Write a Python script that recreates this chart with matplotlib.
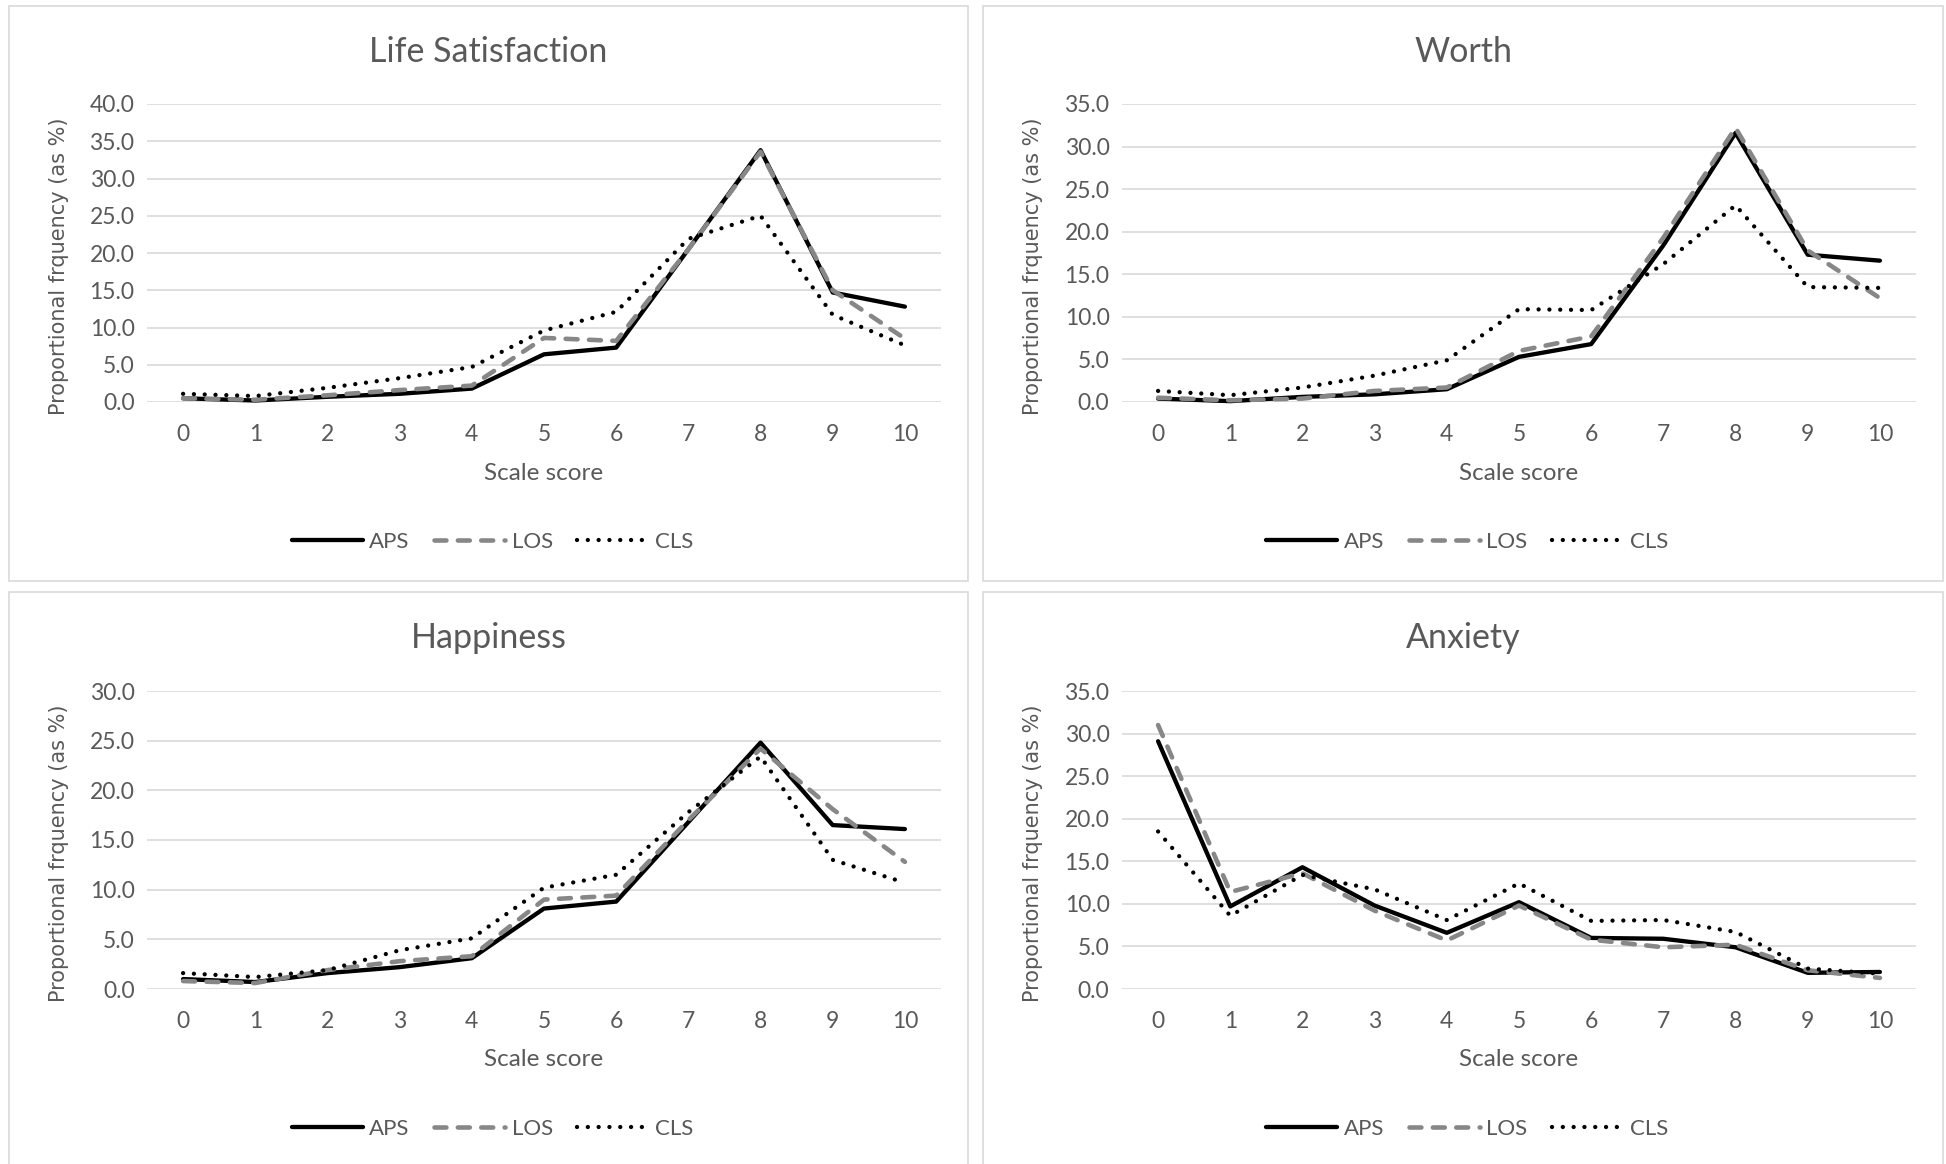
import matplotlib
matplotlib.use("Agg")
import matplotlib.pyplot as plt
from matplotlib.patches import Rectangle

# ---- data ----
scores = list(range(11))
series_names = ["APS", "LOS", "CLS"]

life_aps = [0.5, 0.2, 0.7, 1.1, 1.8, 6.4, 7.3, 20.5, 33.8, 14.7, 12.8]
life_los = [0.5, 0.3, 0.9, 1.6, 2.2, 8.6, 8.2, 20.5, 33.6, 15.0, 8.5]
life_cls = [1.1, 0.8, 1.9, 3.2, 4.7, 9.6, 12.1, 21.9, 25.0, 11.7, 7.6]

worth_aps = [0.4, 0.1, 0.6, 0.9, 1.5, 5.3, 6.8, 18.4, 31.6, 17.3, 16.6]
worth_los = [0.5, 0.2, 0.4, 1.3, 1.7, 6.0, 7.7, 19.3, 32.2, 17.8, 12.2]
worth_cls = [1.3, 0.8, 1.7, 3.1, 4.9, 10.9, 10.8, 16.2, 23.1, 13.5, 13.4]

happy_aps = [1.0, 0.7, 1.6, 2.2, 3.1, 8.1, 8.8, 16.8, 24.8, 16.5, 16.1]
happy_los = [0.8, 0.6, 1.9, 2.8, 3.3, 9.0, 9.4, 17.0, 24.2, 18.1, 12.8]
happy_cls = [1.6, 1.2, 1.9, 3.9, 5.1, 10.2, 11.5, 17.8, 23.4, 13.0, 10.7]

anx_aps = [29.1, 9.7, 14.3, 9.8, 6.6, 10.2, 6.0, 5.9, 4.9, 1.9, 2.0]
anx_los = [31.0, 11.4, 13.6, 9.2, 5.7, 9.8, 5.8, 4.9, 5.2, 2.2, 1.3]
anx_cls = [18.5, 8.6, 13.4, 11.7, 8.1, 12.4, 8.0, 8.1, 6.7, 2.4, 1.8]

titles = ["Life Satisfaction", "Worth", "Happiness", "Anxiety"]
y_max = [40, 35, 30, 35]

# ---- layout (pixels of a 1946x1164 canvas) ----
W, H = 1946, 1164
TEXT = "#595959"
GRID = "#D9D9D9"
FONT = "Lato"

fig = plt.figure(figsize=(W / 100, H / 100), dpi=100)

def fig_rect(x0, y0, x1, y1):
    return [x0 / W, 1 - y1 / H, (x1 - x0) / W, (y1 - y0) / H]

panels = [
    dict(box=(9, 6, 968, 581), plot=(147, 104, 941, 402), data=(life_aps, life_los, life_cls)),
    dict(box=(983, 6, 1943, 581), plot=(1122, 104, 1916, 402), data=(worth_aps, worth_los, worth_cls)),
    dict(box=(9, 592, 968, 1175), plot=(147, 691, 941, 989), data=(happy_aps, happy_los, happy_cls)),
    dict(box=(983, 592, 1943, 1175), plot=(1122, 691, 1916, 989), data=(anx_aps, anx_los, anx_cls)),
]

styles = [
    dict(color="black", lw=3.1, linestyle="-", solid_capstyle="round"),
    dict(color="#878787", lw=3.3, linestyle=(0, (2.6, 2.5)), dash_capstyle="round"),
    dict(color="black", lw=3.1, linestyle=(0, (0.01, 2.5)), dash_capstyle="round"),
]

for i, p in enumerate(panels):
    bx0, by0, bx1, by1 = p["box"]
    px0, py0, px1, py1 = p["plot"]

    # chart area border
    fig.patches.append(Rectangle((bx0 / W, 1 - by1 / H), (bx1 - bx0) / W, (by1 - by0) / H,
                                 transform=fig.transFigure, fill=False,
                                 edgecolor=GRID, lw=1.2))

    ax = fig.add_axes(fig_rect(px0, py0, px1, py1))
    for s in ax.spines.values():
        s.set_visible(False)
    ax.set_xlim(-0.5, 10.5)
    ax.set_ylim(0, y_max[i])
    ax.set_yticks(range(0, y_max[i] + 1, 5))
    ax.set_yticklabels([f"{v:.1f}" for v in range(0, y_max[i] + 1, 5)])
    ax.set_xticks(scores)
    ax.set_xticklabels([str(s) for s in scores])
    ax.grid(axis="y", color=GRID, lw=1.2)
    ax.set_axisbelow(True)
    ax.tick_params(length=0, colors=TEXT, labelsize=16.5)
    ax.tick_params(axis="x", pad=16)
    ax.tick_params(axis="y", pad=9)
    for lab in ax.get_xticklabels() + ax.get_yticklabels():
        lab.set_fontfamily(FONT)

    for vals, name, st in zip(p["data"], series_names, styles):
        ax.plot(scores, vals, label=name, clip_on=False, **st)

    cx_box = (bx0 + bx1) / 2
    cx_plot = (px0 + px1) / 2
    fig.text(cx_box / W, 1 - (by0 + 46) / H, titles[i], ha="center", va="center",
             fontsize=24.5, color=TEXT, family=FONT)
    fig.text(cx_plot / W, 1 - (py1 + 71) / H, "Scale score", ha="center", va="center",
             fontsize=17.5, color=TEXT, family=FONT)
    fig.text((bx0 + 50) / W, 1 - ((py0 + py1) / 2 + 13) / H, "Proportional frquency (as %)",
             rotation=90, ha="center", va="center", fontsize=15, color=TEXT,
             family="DejaVu Sans")

    leg = ax.legend(loc="center", bbox_to_anchor=((cx_box + 4) / W, 1 - (py1 + 140) / H),
                    bbox_transform=fig.transFigure, ncol=3, frameon=False,
                    handlelength=3.2, handletextpad=0.3, columnspacing=1.1,
                    prop={"family": FONT, "size": 16})
    for t in leg.get_texts():
        t.set_color(TEXT)

fig.savefig("out.png", dpi=100, facecolor="white")
